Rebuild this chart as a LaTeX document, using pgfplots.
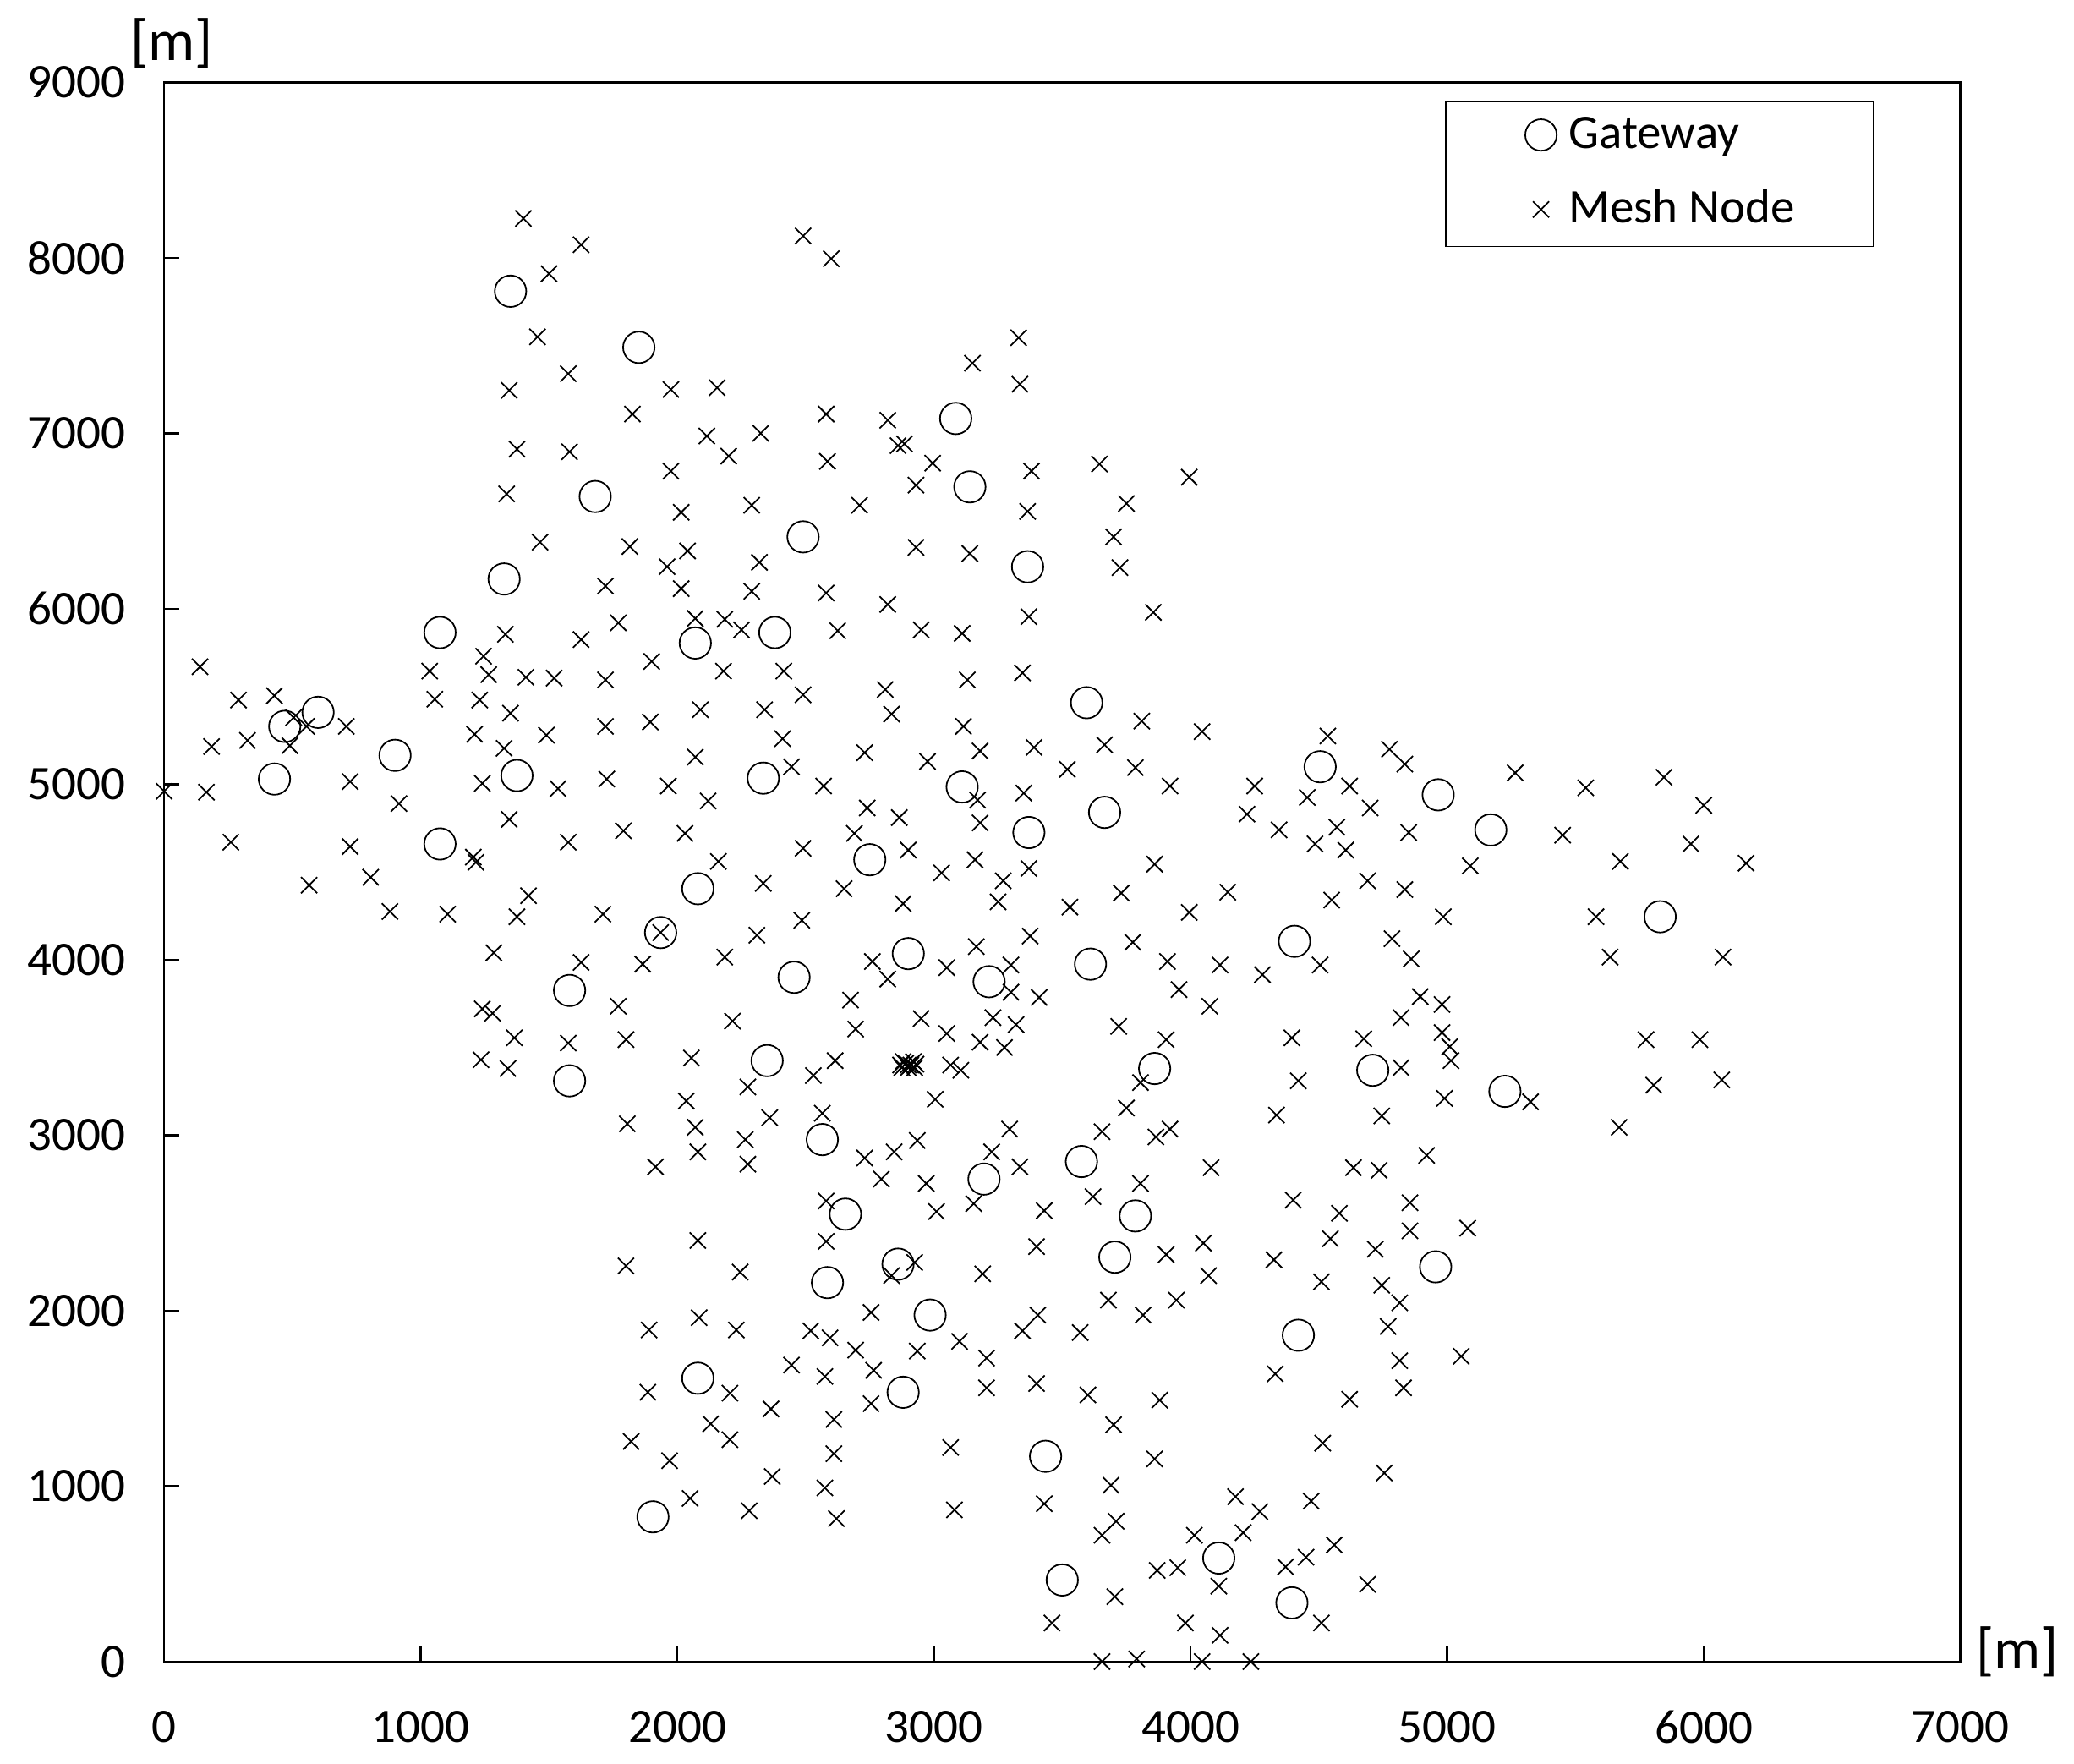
\documentclass[border=0pt]{standalone}
\usepackage{fontspec}
\setmainfont{Carlito}
\usepackage{pgfplots}
\pgfplotsset{compat=1.18}

\begin{document}
\begin{tikzpicture}
\begin{axis}[
    name=ax,
    scale only axis,
    width=708.2bp, height=622.5bp,
    xmin=0, xmax=7000, ymin=0, ymax=9000,
    xtick={0,1000,...,7000}, ytick={0,1000,...,9000},
    xtick pos=left, ytick pos=left,
    tick align=inside,
    major tick length=5.9bp,
    axis line style={line width=0.8bp},
    every tick/.style={black, line width=0.8bp},
    /pgf/number format/1000 sep={},
    /pgf/number format/assume math mode=true,
    tick label style={font=\fontsize{19bp}{23bp}\selectfont, inner sep=0pt},
    xticklabel style={yshift=-19.3bp},
    yticklabel style={xshift=-15bp},
    clip=false,
    legend cell align=left,
    legend style={at={(0.9521,0.9884)}, anchor=north east,
        draw=black, line width=0.6bp, fill=white,
        inner xsep=31bp, inner ysep=6.7bp,
        row sep=15bp, column sep=4.5bp,
        font=\fontsize{19bp}{23bp}\selectfont,
        nodes={inner sep=0pt, text height=0.75em, text depth=0.25em}},
    legend image code/.code={
        \path[draw=none, fill=none] (-6.5bp,-3.6bp) rectangle (6.5bp,9.4bp);
        \draw[mark repeat=1,#1] plot coordinates {(0bp,2.9bp)};},
]
% gateways
\addplot[only marks, mark=o, mark size=6.2bp, black, mark options={line width=0.6bp}] coordinates {
(1350,7810) (1325,6170) (1075,5865)
(1850,7490) (3085,7085) (1680,6640) (2490,6410) (2070,5805) (2380,5865)
(3140,6695) (3365,6240)
(470,5330) (600,5410) (900,5165) (430,5030) (1375,5050) (1075,4660)
(2335,5035) (3110,4985) (2750,4570) (2080,4405) (1935,4155) (1580,3825)
(2455,3900) (2900,4035) (2350,3425) (1580,3310) (2565,2975)
(3595,5465) (4505,5100) (3665,4840) (3370,4725) (4405,4105) (3215,3875)
(3610,3975) (3860,3380) (4710,3370) (3575,2850) (3195,2750)
(4965,4940) (5170,4740) (5830,4245) (5225,3250)
(2655,2550) (2585,2160) (2860,2265) (2985,1975) (2080,1615) (2880,1535) (1905,825)
(3785,2540) (3705,2305) (4420,1860) (3435,1170) (4110,590) (3500,465) (4395,335)
(4955,2250)
};
\addlegendentry{Gateway}
% mesh nodes
\addplot[only marks, mark=x, mark size=4.5bp, black, mark options={line width=0.6bp}] coordinates {
(1400,8225) (1500,7910) (1455,7550) (1345,7245) (1375,6910) (1335,6655) (1465,6380)
(1330,5855) (1245,5730) (140,5670) (1035,5645) (1265,5625) (1410,5610) (1520,5605)
(1625,8075) (2490,8125) (2600,7995) (1575,7340) (1975,7250) (2155,7260) (1825,7110)
(2580,7110) (2820,7075) (2115,6985) (2325,7000) (2860,6930) (2885,6940) (1580,6895)
(2200,6870) (2585,6840) (2995,6830) (1975,6785) (2930,6705) (2015,6550) (2290,6590)
(2710,6590) (1815,6355) (2040,6330) (2930,6350) (1960,6240) (2320,6265) (1720,6130)
(2015,6115) (2290,6100) (2580,6090) (2820,6025) (1770,5920) (2070,5945) (2185,5940)
(2250,5880) (2625,5875) (2950,5880) (3110,5860) (1625,5825) (1900,5700) (2180,5645)
(2415,5645) (1720,5595) (3130,5595)
(3330,7545) (3150,7400) (3335,7280) (3380,6785) (3645,6825) (3995,6750) (3365,6555)
(3750,6600) (3700,6410) (3140,6315) (3725,6235) (3370,5955) (3855,5980) (3345,5635)
(290,5480) (430,5505) (1055,5485) (1230,5480) (1350,5405) (185,5215) (325,5250)
(505,5380) (555,5330) (490,5220) (710,5330) (1210,5285) (1325,5205) (1490,5280)
(0,4960) (165,4955) (725,5015) (1240,5005) (1535,4975) (915,4890) (1345,4800)
(260,4670) (725,4645) (1205,4585) (1215,4555) (1420,4365) (565,4425) (805,4470)
(880,4275) (1105,4260) (1375,4245) (1285,4040) (1240,3720) (1280,3695) (1365,3555)
(1235,3430) (1340,3380)
(2490,5510) (2810,5540) (2090,5425) (2340,5425) (1720,5330) (1895,5355) (2835,5400)
(3115,5330) (2410,5260) (2070,5155) (2730,5180) (2975,5130) (2445,5100) (1725,5030)
(1965,4990) (2120,4905) (2570,4990) (2740,4865) (2865,4810) (2690,4720) (1575,4670)
(1790,4735) (2030,4720) (2490,4635) (2900,4625) (2160,4560) (3030,4495) (2335,4435)
(2650,4405) (2880,4320) (1710,4260) (1935,4155) (2485,4225) (2310,4140) (1625,3985)
(1865,3975) (2185,4015) (2760,3990) (2820,3890) (3050,3955) (1770,3735) (2675,3770)
(2215,3650) (2695,3605) (2950,3665) (3050,3580) (1575,3525) (1800,3545) (2055,3440)
(2615,3425) (2870,3400) (2890,3410) (2910,3400) (2930,3405) (2880,3420) (2920,3420)
(2900,3385) (2875,3385) (2925,3385) (2900,3400) (3065,3400) (3105,3370) (2530,3340)
(2275,3275) (3005,3205) (2035,3195) (2360,3100) (2565,3125) (1805,3065) (2070,3045)
(2265,2975) (2080,2905) (2935,2970) (2845,2905) (2730,2870) (2275,2835) (1915,2820)
(2795,2750) (2970,2725)
(3810,5360) (4045,5300) (4535,5275) (3180,5190) (3390,5210) (3665,5225) (3520,5085)
(3785,5095) (3920,4990) (4250,4990) (4620,4990) (3350,4950) (3170,4910) (4220,4830)
(4455,4925) (4700,4865) (3180,4780) (4345,4740) (4570,4755) (4485,4660) (4605,4625)
(3160,4570) (3370,4520) (3860,4545) (3270,4450) (4690,4450) (3250,4330) (3730,4380)
(4145,4385) (3530,4300) (3995,4270) (4550,4340) (3375,4135) (3775,4100) (3165,4075)
(3300,3970) (3910,3990) (4115,3970) (4280,3915) (4505,3970) (3300,3815) (3410,3785)
(3955,3830) (4075,3735) (3230,3670) (3320,3630) (3720,3620) (3180,3530) (3275,3500)
(3905,3545) (4395,3555) (4675,3550) (3805,3300) (4420,3310) (3750,3155) (4335,3115)
(3295,3035) (3655,3020) (3865,2990) (3920,3035) (3225,2905) (3335,2820) (4080,2815)
(4635,2815) (3805,2725) (3620,2650)
(4775,5200) (4835,5115) (5265,5065) (5540,4980) (5845,5040) (6000,4880) (4850,4725)
(5450,4710) (5950,4660) (5675,4560) (6165,4550) (5090,4535) (4835,4400) (4985,4245)
(5580,4245) (4785,4120) (4860,4005) (5635,4015) (6075,4015) (4895,3790) (4980,3745)
(4820,3670) (4980,3585) (5010,3505) (5015,3425) (5775,3545) (5985,3545) (4820,3385)
(5805,3285) (6070,3315) (5325,3190) (4990,3210) (4745,3110) (5670,3045) (4920,2885)
(4735,2800)
(2580,2625) (3010,2565) (2080,2400) (2580,2395) (1800,2255) (2245,2220) (2835,2200)
(2925,2275) (2755,1990) (1890,1890) (2085,1960) (2230,1890) (2520,1885) (2595,1845)
(2695,1775) (2935,1770) (3100,1825) (2445,1690) (2765,1660) (1885,1535) (2205,1530)
(2575,1625) (2755,1470) (2365,1440) (2610,1380) (2130,1355) (2205,1265) (1820,1255)
(1970,1145) (2610,1185) (3065,1220) (2370,1055) (2575,990) (2050,930) (2280,860)
(2620,815) (3080,865)
(3155,2610) (3430,2570) (4400,2630) (4580,2555) (3400,2365) (3905,2320) (4050,2385)
(4325,2290) (4545,2410) (4720,2350) (3190,2210) (4070,2200) (4510,2165) (3680,2060)
(3945,2060) (3405,1975) (3345,1885) (3815,1975) (3570,1875) (3205,1730) (3205,1560)
(3400,1585) (3600,1520) (3880,1490) (4330,1640) (4620,1495) (3700,1350) (3860,1155)
(4515,1245) (3690,1005) (3430,900) (4175,940) (4470,915) (4270,855) (3710,800)
(3655,720) (4015,720) (4205,735) (4560,665) (3870,520) (3950,535) (4370,540)
(4450,595) (4110,430) (4690,440) (3705,370) (3460,220) (3980,220) (4115,150)
(4510,220) (3655,0) (3790,15) (4045,0) (4235,0)
(4855,2615) (4855,2455) (5080,2470) (4745,2145) (4815,2045) (4770,1910) (4815,1715)
(5055,1740) (4830,1560) (4755,1075)
};
\addlegendentry{Mesh Node}
\end{axis}
\node[anchor=base, font=\fontsize{23bp}{27bp}\selectfont] at ([xshift=3bp,yshift=8.5bp]ax.north west) {[m]};
\node[anchor=base, font=\fontsize{23bp}{27bp}\selectfont] at ([xshift=22.4bp,yshift=-2.7bp]ax.south east) {[m]};
\pgfresetboundingbox
\path ([xshift=-64.7bp,yshift=-40.3bp]ax.south west) rectangle ([xshift=44.8bp,yshift=32.5bp]ax.north east);
\end{tikzpicture}
\end{document}
